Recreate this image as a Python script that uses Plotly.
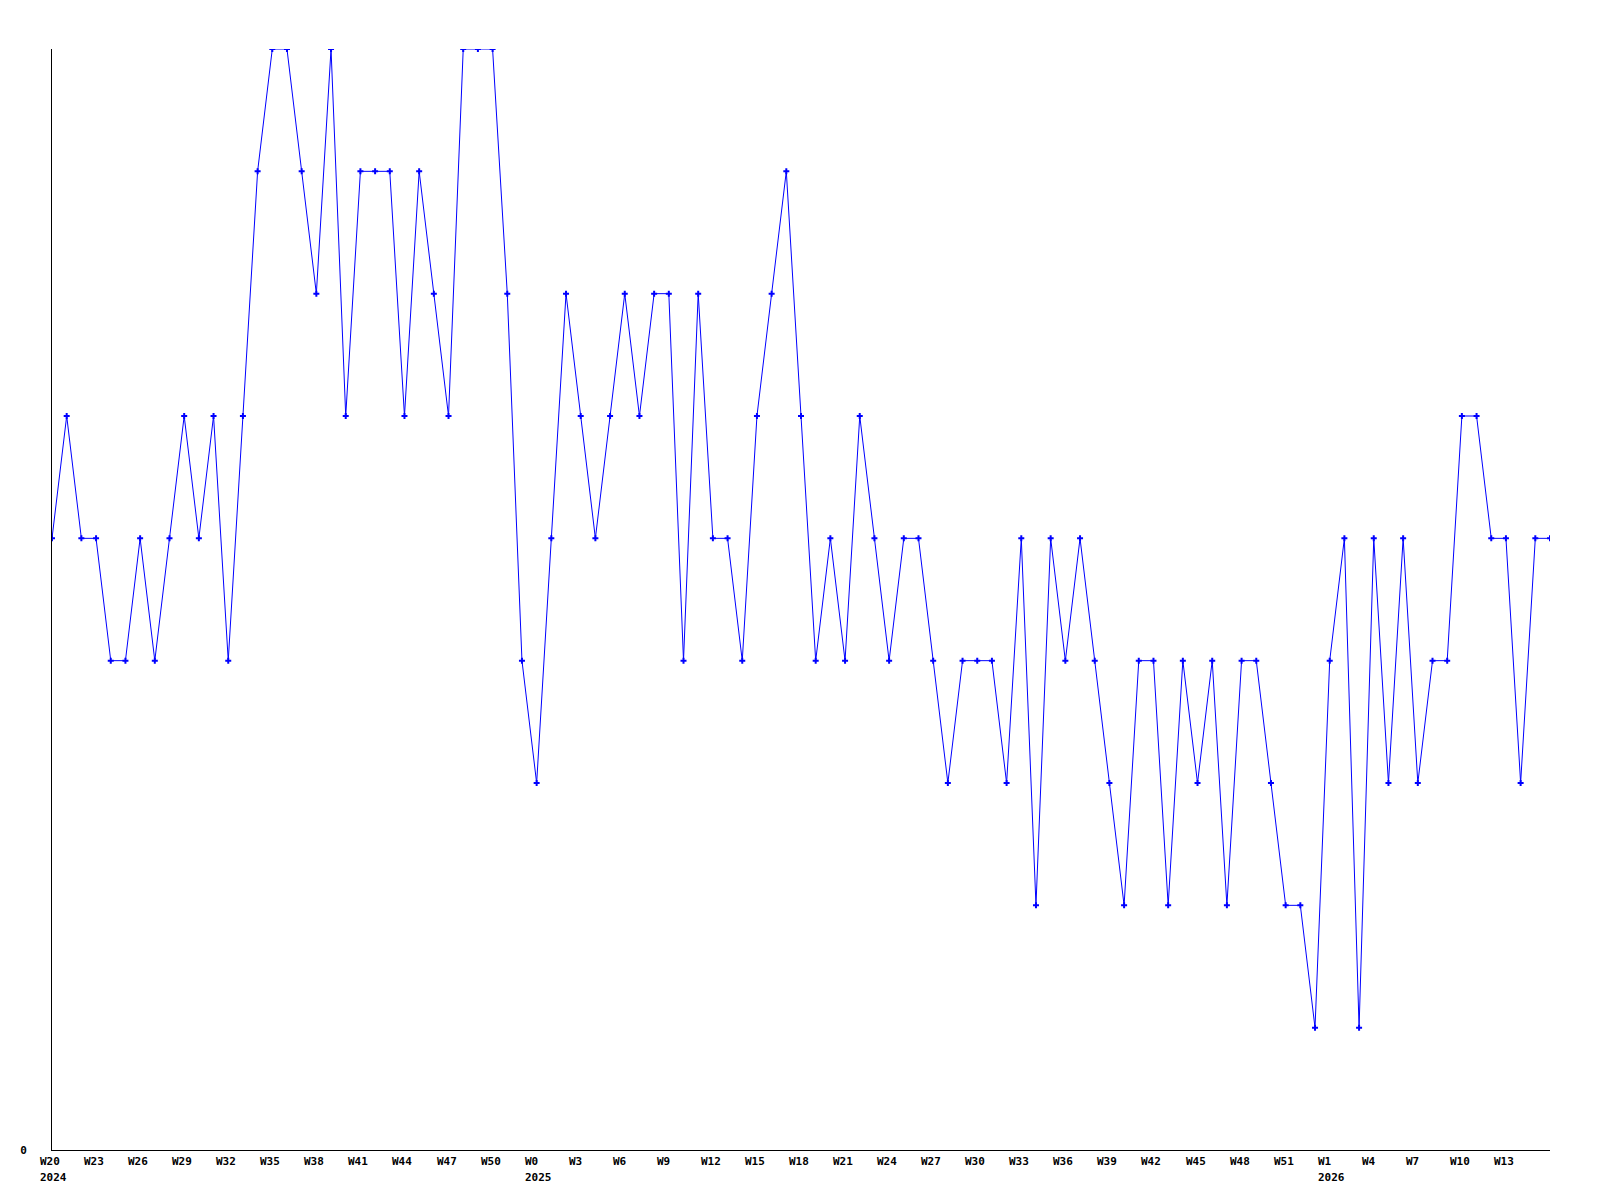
import plotly.graph_objects as go

values = [5, 6, 5, 5, 4, 4, 5, 4, 5, 6,
          5, 6, 4, 6, 8, 9, 9, 8, 7, 9,
          6, 8, 8, 8, 6, 8, 7, 6, 9, 9,
          9, 7, 4, 3, 5, 7, 6, 5, 6, 7,
          6, 7, 7, 4, 7, 5, 5, 4, 6, 7,
          8, 6, 4, 5, 4, 6, 5, 4, 5, 5,
          4, 3, 4, 4, 4, 3, 5, 2, 5, 4,
          5, 4, 3, 2, 4, 4, 2, 4, 3, 4,
          2, 4, 4, 3, 2, 2, 1, 4, 5, 1,
          5, 3, 5, 3, 4, 4, 6, 6, 5, 5,
          3, 5, 5]

tick_index = [0, 3, 6, 9, 12, 15, 18, 21, 24, 27, 30,
              33, 36, 39, 42, 45, 48, 51, 54, 57, 60, 63, 66, 69, 72, 75, 78, 81, 84,
              87, 90, 93, 96, 99]
tick_labels = ["W20", "W23", "W26", "W29", "W32", "W35", "W38", "W41", "W44", "W47", "W50",
               "W0", "W3", "W6", "W9", "W12", "W15", "W18", "W21", "W24", "W27", "W30",
               "W33", "W36", "W39", "W42", "W45", "W48", "W51",
               "W1", "W4", "W7", "W10", "W13"]
year_index = [0, 33, 87]
year_labels = ["2024", "2025", "2026"]

x = list(range(len(values)))
FONT = dict(family="DejaVu Sans Mono", size=11, color="black", weight="bold")

fig = go.Figure()
fig.add_trace(go.Scatter(
    x=x, y=values, mode="lines+markers",
    line=dict(color="#0000ff", width=1),
    marker=dict(symbol="cross", size=5, color="#0000ff", line=dict(width=0)),
    hoverinfo="skip",
))

annotations = []
for xi, t in zip(tick_index, tick_labels):
    annotations.append(dict(x=xi, y=0, xref="x", yref="y", text=t, showarrow=False,
                            xanchor="left", yanchor="middle", xshift=-12, yshift=-11,
                            font=FONT, borderpad=0, borderwidth=0))
for xi, t in zip(year_index, year_labels):
    annotations.append(dict(x=xi, y=0, xref="x", yref="y", text=t, showarrow=False,
                            xanchor="left", yanchor="middle", xshift=-12, yshift=-27,
                            font=FONT, borderpad=0, borderwidth=0))

fig.update_layout(
    width=1584, height=1184,
    margin=dict(l=42, r=42, t=41, b=42),
    paper_bgcolor="white", plot_bgcolor="white",
    showlegend=False,
    annotations=annotations,
    xaxis=dict(range=[0, len(values) - 1], showgrid=False, zeroline=False,
               showline=True, linecolor="black", linewidth=1,
               showticklabels=False, ticks=""),
    yaxis=dict(range=[0, 9], showgrid=False, zeroline=False,
               showline=True, linecolor="black", linewidth=1,
               tickvals=[0], ticktext=["0"], ticks="", tickfont=FONT,
               ticklabelstandoff=22),
)

fig.write_html("out.html")
